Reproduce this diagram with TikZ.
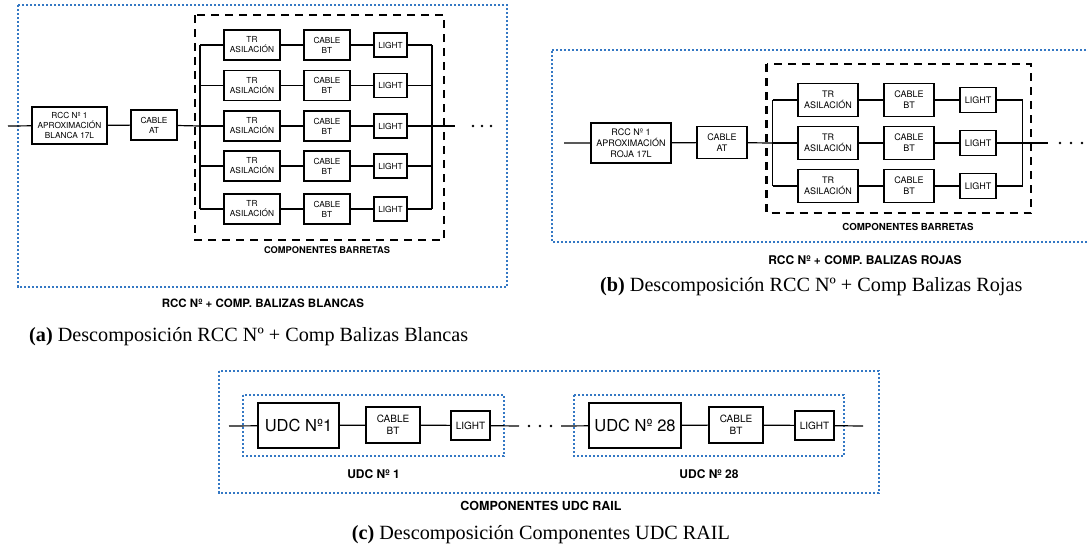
\documentclass[tikz,border=0pt]{standalone}
\usepackage{fontspec}
\setmainfont{Liberation Serif}
\newfontfamily\hv{TeX Gyre Heros}
\definecolor{bdot}{RGB}{52,120,196}
\begin{document}
\begin{tikzpicture}[x=1pt,y=-1pt,
  bx/.style={draw,line width=1.5pt,inner sep=0pt,align=center},
  fa/.style={font=\hv\fontsize{8.3}{10}\selectfont},
  fb/.style={font=\hv\fontsize{9}{10.8}\selectfont},
  fc/.style={font=\hv\fontsize{10}{12}\selectfont},
  wire/.style={line width=1.2pt},
  bluebox/.style={draw=bdot,line width=2.3pt,dash pattern=on 2.2pt off 1.8pt},
  blackdash/.style={draw=black,line width=2.5pt,dash pattern=on 8pt off 6pt},
  lbl/.style={font=\hv\bfseries\fontsize{#1}{#1}\selectfont,inner sep=0pt},
  captxt/.style={font=\fontsize{20.2}{24}\selectfont,inner sep=0pt}
]
\useasboundingbox (0,0) rectangle (1088,560);

% ================= Panel (a) =================
\draw[bluebox] (18,5) rectangle (507,287);
\draw[blackdash] (195,15) rectangle (444,240);
\node[bx,fa,minimum width=75,minimum height=37] (a-rcc) at (69.5,125.5) {RCC Nº 1\\APROXIMACIÓN\\BLANCA 17L};
\node[bx,fa,minimum width=46,minimum height=30] (a-cab) at (154,125) {CABLE\\AT};
\coordinate (a-in) at (8,126);
\coordinate (a-out) at (455,126);
\foreach \i/\y in {1/45,2/85.5,3/126,4/166,5/209}{
  \node[bx,fa,minimum width=56,minimum height=30] (a-tr\i) at (252,\y) {TR\\ASILACIÓN};
  \node[bx,fa,minimum width=46,minimum height=30] (a-cb\i) at (327,\y) {CABLE\\BT};
  \node[bx,fa,minimum width=33,minimum height=24] (a-li\i) at (390.5,\y) {LIGHT};
  \coordinate (a-l\i) at (200,\y);
  \coordinate (a-r\i) at (432,\y);
  \draw[wire] (a-l\i) -- (a-tr\i) -- (a-cb\i) -- (a-li\i) -- (a-r\i);
}
\draw[wire] (a-in) -- (a-rcc) -- (a-cab) -- (a-l3);
\draw[wire] (a-l1) -- (a-l5);
\draw[wire] (a-r1) -- (a-r5);
\draw[wire] (a-r3) -- (a-out);
\foreach \x in {473,482,491} \fill (\x,126) circle (1.3);
\node[lbl=9.3] (a-bar) at (327,250) {COMPONENTES BARRETAS};
\node[lbl=11.5] (a-tit) at (263,303) {RCC Nº + COMP. BALIZAS BLANCAS};
\node[captxt,anchor=west] (a-cap) at (29,337) {\textbf{(a)} Descomposición RCC Nº + Comp Balizas Blancas};

% ================= Panel (b) =================
\draw[bluebox] (552,50) -- (1095,50);
\draw[bluebox] (1095,242) -- (552,242) -- (552,50);
\draw[blackdash] (766.5,64) rectangle (1031,213);
\node[bx,fb,minimum width=80,minimum height=40] (b-rcc) at (631,143) {RCC Nº 1\\APROXIMACIÓN\\ROJA 17L};
\node[bx,fb,minimum width=50,minimum height=32] (b-cab) at (722,142.5) {CABLE\\AT};
\coordinate (b-in) at (564,143);
\coordinate (b-out) at (1048,143);
\foreach \i/\y in {1/100,2/143,3/186}{
  \node[bx,fb,minimum width=60,minimum height=33] (b-tr\i) at (828,\y) {TR\\ASILACIÓN};
  \node[bx,fb,minimum width=50,minimum height=33] (b-cb\i) at (909,\y) {CABLE\\BT};
  \node[bx,fb,minimum width=36,minimum height=25] (b-li\i) at (978,\y) {LIGHT};
  \coordinate (b-l\i) at (772.5,\y);
  \coordinate (b-r\i) at (1022.5,\y);
  \draw[wire] (b-l\i) -- (b-tr\i) -- (b-cb\i) -- (b-li\i) -- (b-r\i);
}
\draw[wire] (b-in) -- (b-rcc) -- (b-cab) -- (b-l2);
\draw[wire] (b-l1) -- (b-l3);
\draw[wire] (b-r1) -- (b-r3);
\draw[wire] (b-r2) -- (b-out);
\foreach \x in {1060,1071,1082} \fill (\x,143) circle (1.3);
\node[lbl=9.7] (b-bar) at (908,227) {COMPONENTES BARRETAS};
\node[lbl=12] (b-tit) at (865,260) {RCC Nº + COMP. BALIZAS ROJAS};
\node[captxt,anchor=west] (b-cap) at (600,287) {\textbf{(b)} Descomposición RCC Nº + Comp Balizas Rojas};

% ================= Panel (c) =================
\draw[bluebox] (219,371) rectangle (879,493);
\draw[bluebox] (243,395) rectangle (504,456);
\draw[bluebox] (574,395) rectangle (844,456);
\node[bx,line width=1.8pt,font=\hv\fontsize{16.5}{18}\selectfont,minimum width=81,minimum height=45] (c-u1) at (298.5,425.5) {UDC Nº1};
\node[bx,fc,minimum width=54,minimum height=36] (c-cb1) at (393,425) {CABLE\\BT};
\node[bx,line width=1.8pt,fc,minimum width=39,minimum height=29] (c-li1) at (470.5,425.5) {LIGHT};
\node[bx,line width=1.8pt,font=\hv\fontsize{16.5}{18}\selectfont,minimum width=92,minimum height=45] (c-u2) at (635,425.5) {UDC Nº 28};
\node[bx,fc,minimum width=54,minimum height=36] (c-cb2) at (736,425) {CABLE\\BT};
\node[bx,line width=1.8pt,fc,minimum width=39,minimum height=29] (c-li2) at (814.5,425.5) {LIGHT};
\coordinate (c-in) at (229,426);
\coordinate (c-m1) at (519,426);
\coordinate (c-m2) at (561,426);
\coordinate (c-out) at (863,426);
\draw[wire] (c-in) -- (c-u1) -- (c-cb1) -- (c-li1) -- (c-m1);
\draw[wire] (c-m2) -- (c-u2) -- (c-cb2) -- (c-li2) -- (c-out);
\foreach \x in {529,540,551} \fill (\x,426) circle (1.3);
\node[lbl=12] (c-t1) at (373.5,474) {UDC Nº 1};
\node[lbl=12] (c-t2) at (709,474) {UDC Nº 28};
\node[lbl=12.5] (c-tit) at (541,506) {COMPONENTES UDC RAIL};
\node[captxt] (c-cap) at (541,535) {\textbf{(c)} Descomposición Componentes UDC RAIL};
\end{tikzpicture}
\end{document}
